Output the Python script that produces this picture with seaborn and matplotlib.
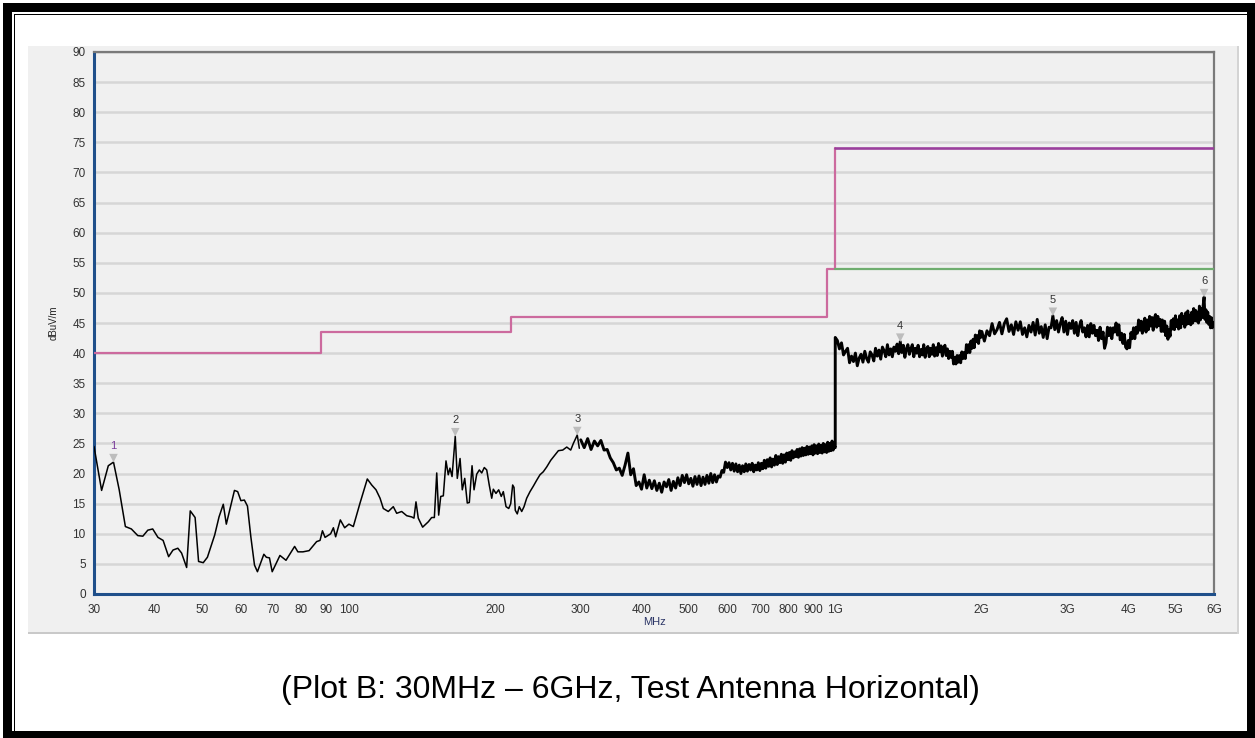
import matplotlib
matplotlib.use("Agg")
import numpy as np
import pandas as pd
import matplotlib.pyplot as plt
import seaborn as sns
from matplotlib.patches import Rectangle
from matplotlib.ticker import FixedLocator, MultipleLocator, NullLocator
import matplotlib.transforms as mtransforms

# ---------------- data ----------------
# 30 - 100 MHz
freq_a = [30.0, 31.1, 32.1, 32.9, 33.8, 34.8, 35.8, 36.9, 37.8, 38.7, 39.6, 40.6, 41.6, 42.7,
          43.6, 44.6, 45.4, 46.5, 47.3, 48.4, 49.2, 50.3, 51.3, 53.1, 54.2, 55.3, 56.1, 57.1,
          58.3, 59.2, 60.1, 61.1, 62.0, 63.0, 64.1, 65.0, 67.0, 67.8, 68.8, 69.7, 72.3, 74.4,
          77.5, 78.7, 80.6, 83.0, 86.0, 87.4, 88.4, 89.5, 91.9, 93.1, 94.1, 96.2, 98.2, 100.2]
level_a = [24.5, 17.2, 21.3, 21.9, 17.3, 11.2, 10.8, 9.7, 9.6, 10.6, 10.8, 9.4, 8.9, 6.2,
           7.3, 7.6, 6.8, 4.4, 13.8, 12.7, 5.4, 5.2, 6.1, 9.8, 12.8, 14.9, 11.6, 14.2,
           17.2, 17.0, 15.5, 15.6, 14.6, 9.5, 4.8, 3.7, 6.6, 6.1, 6.0, 3.7, 6.4, 5.6,
           7.9, 7.0, 7.0, 7.2, 8.7, 8.9, 10.5, 9.4, 10.0, 11.0, 9.5, 12.3, 11.0, 11.6]

# 100 - 300 MHz
freq_b = [102.3, 105.6, 109.3, 111.6, 113.9, 116.1, 117.9, 120.7, 123.6, 125.6,
          128.6, 131.7, 134.8, 136.3, 137.6, 139.1, 142.0, 145.9, 148.2, 150.1,
          151.8, 153.2, 154.7, 156.6, 158.6, 160.3, 161.6, 163.2, 165.7, 167.3,
          169.5, 171.3, 173.3, 175.4, 177.1, 179.4, 181.1, 183.4, 185.7, 187.8,
          190.1, 192.3, 194.6, 196.9, 198.4, 200.9, 203.5, 206.0, 208.0, 210.7,
          213.4, 215.4, 217.4, 218.8, 220.1, 222.2, 224.3, 226.9, 229.4, 232.3,
          236.0, 239.7, 243.6, 247.4, 251.3, 255.4, 260.3, 265.7, 269.9, 275.5,
          280.8, 286.1, 289.7, 295.1, 298.0]
level_b = [11.2, 15.1, 19.1, 18.1, 17.3, 15.9, 14.2, 13.7, 14.5, 13.4,
           13.7, 13.0, 12.8, 12.6, 15.3, 12.6, 11.1, 12.0, 12.7, 12.7,
           20.1, 13.1, 16.2, 16.3, 22.1, 19.8, 20.9, 19.5, 26.2, 19.2,
           22.5, 17.3, 19.2, 15.1, 15.2, 21.3, 17.3, 19.9, 20.6, 20.1,
           21.0, 20.6, 18.1, 15.9, 17.4, 16.7, 17.3, 16.2, 17.0, 14.5,
           14.2, 15.0, 18.1, 17.7, 13.9, 13.3, 14.5, 13.7, 14.5, 15.9,
           17.0, 17.9, 18.9, 19.8, 20.3, 21.1, 22.2, 23.1, 23.8, 23.9,
           24.4, 23.9, 25.0, 26.4, 24.2]

# 300 - 1000 MHz
freq_c = [300, 305, 310, 315, 320, 325, 330, 335, 340, 345,
          350, 355, 360, 365, 370, 375, 380, 385, 390, 395,
          400, 405, 410, 415, 420, 425, 430, 435, 440, 445,
          450, 455, 460, 465, 470, 475, 480, 485, 490, 495,
          500, 505, 510, 515, 520, 525, 530, 535, 540, 545,
          550, 555, 560, 565, 570, 575, 580, 585, 590, 595,
          600, 605, 610, 615, 620, 625, 630, 635, 640, 645,
          650, 655, 660, 665, 670, 675, 680, 685, 690, 695,
          700, 705, 710, 715, 720, 725, 730, 735, 740, 745,
          750, 755, 760, 765, 770, 775, 780, 785, 790, 795,
          800, 805, 810, 815, 820, 825, 830, 835, 840, 845,
          850, 855, 860, 865, 870, 875, 880, 885, 890, 895,
          900, 905, 910, 915, 920, 925, 930, 935, 940, 945,
          950, 955, 960, 965, 970, 975, 980, 985, 990, 995]
level_c = [25.6, 24.3, 25.8, 24.0, 25.4, 24.6, 25.5, 23.9, 24.0, 22.6,
           21.8, 20.6, 20.9, 19.7, 21.4, 23.4, 19.8, 20.8, 18.0, 18.6,
           17.4, 19.8, 17.6, 18.9, 17.5, 18.8, 17.2, 18.4, 16.9, 18.6,
           17.8, 19.0, 17.2, 18.7, 17.6, 19.3, 18.0, 19.7, 18.5, 19.8,
           18.3, 19.2, 17.9, 19.5, 18.2, 19.6, 18.0, 19.4, 18.2, 19.7,
           18.4, 20.0, 18.5, 19.8, 18.6, 19.6, 19.4, 20.5, 20.2, 21.9,
           21.0, 21.8, 20.6, 21.7, 20.4, 21.6, 20.3, 21.4, 20.0, 21.3,
           20.3, 21.6, 20.4, 21.5, 20.6, 21.7, 20.3, 21.4, 20.6, 21.8,
           20.5, 21.7, 20.8, 22.2, 20.9, 22.3, 21.2, 22.6, 21.1, 22.4,
           21.4, 23.0, 21.5, 22.8, 21.8, 23.2, 21.7, 23.1, 21.9, 23.4,
           22.3, 23.5, 22.2, 23.8, 22.6, 23.6, 22.8, 24.0, 22.7, 24.1,
           22.9, 24.3, 23.0, 24.2, 23.1, 24.5, 23.2, 24.4, 23.3, 24.6,
           23.1, 24.8, 23.4, 24.6, 23.3, 24.9, 23.5, 24.7, 23.4, 25.0,
           23.6, 24.8, 23.5, 25.2, 23.7, 25.0, 23.8, 25.4, 23.9, 24.6]

# 1 - 2 GHz
freq_d = [1000, 1000,
          1010, 1020, 1030, 1040, 1050, 1060, 1070, 1080, 1090, 1100,
          1110, 1120, 1130, 1140, 1150, 1160, 1170, 1180, 1190, 1200,
          1210, 1220, 1230, 1240, 1250, 1260, 1270, 1280, 1290, 1300,
          1310, 1320, 1330, 1340, 1350, 1360, 1370, 1380, 1390, 1400,
          1410, 1420, 1430, 1440, 1450, 1460, 1470, 1480, 1490, 1500,
          1510, 1520, 1530, 1540, 1550, 1560, 1570, 1580, 1590, 1600,
          1610, 1620, 1630, 1640, 1650, 1660, 1670, 1680, 1690, 1700,
          1710, 1720, 1730, 1740, 1750, 1760, 1770, 1780, 1790, 1800,
          1810, 1820, 1830, 1840, 1850, 1860, 1870, 1880, 1890, 1900,
          1910, 1920, 1930, 1940, 1950, 1960, 1970, 1980, 1990]
level_d = [24.3, 42.6,
           42.1, 40.7, 41.7, 39.7, 40.3, 40.8, 38.4, 39.5, 38.6, 40.0,
           37.9, 39.2, 39.8, 38.5, 40.3, 39.1, 38.5, 40.2, 39.7, 38.7,
           40.8, 39.5, 40.5, 39.0, 41.0, 40.4, 39.4, 41.4, 39.7, 40.7,
           39.4, 41.0, 40.3, 41.5, 39.9, 41.9, 40.1, 41.3, 39.3, 40.7,
           41.4, 39.8, 40.7, 41.4, 39.4, 40.8, 40.0, 41.3, 39.4, 40.6,
           39.7, 41.4, 39.3, 40.7, 41.1, 39.4, 40.8, 39.8, 41.4, 39.5,
           40.9, 39.6, 41.6, 40.2, 41.2, 39.5, 40.7, 41.3, 39.6, 40.7,
           39.1, 40.3, 39.3, 40.3, 38.2, 39.3, 38.2, 39.6, 38.5, 39.6,
           38.4, 40.2, 39.1, 40.1, 39.1, 41.4, 40.1, 41.4, 40.1, 42.0,
           40.8, 42.3, 40.9, 43.0, 41.9, 42.9, 41.6, 43.7, 42.6]

# 2 - 6 GHz
freq_e = [2000, 2025, 2050, 2075, 2100, 2125, 2150, 2175, 2200, 2225, 2250, 2275,
          2300, 2325, 2350, 2375, 2400, 2425, 2450, 2475, 2500, 2525, 2550, 2575,
          2600, 2625, 2650, 2675, 2700, 2725, 2750, 2775, 2800, 2825, 2850, 2875,
          2900, 2925, 2950, 2975, 3000, 3025, 3050, 3075, 3100, 3125, 3150, 3175,
          3200, 3225, 3250, 3275, 3300, 3325, 3350, 3375, 3400, 3425, 3450, 3475,
          3500, 3525, 3550, 3575, 3600, 3625, 3650, 3675, 3700, 3725, 3750, 3775,
          3800, 3825, 3850, 3875, 3900, 3925, 3950, 3975, 4000, 4025, 4050, 4075,
          4100, 4125, 4150, 4175, 4200, 4225, 4250, 4275, 4300, 4325, 4350, 4375,
          4400, 4425, 4450, 4475, 4500, 4525, 4550, 4575, 4600, 4625, 4650, 4675,
          4700, 4725, 4750, 4775, 4800, 4825, 4850, 4875, 4900, 4925, 4950, 4975,
          5000, 5025, 5050, 5075, 5100, 5125, 5150, 5175, 5200, 5225, 5250, 5275,
          5300, 5325, 5350, 5375, 5400, 5425, 5450, 5475, 5500, 5525, 5550, 5575,
          5600, 5625, 5650, 5675, 5700, 5725, 5750, 5775, 5800, 5825, 5850, 5875,
          5900, 5925, 5950, 5975, 6000]
level_e = [43.6, 42.0, 43.7, 42.9, 44.9, 43.2, 43.9, 45.1, 43.2, 44.9, 45.7, 43.6,
           44.7, 43.1, 45.2, 43.8, 45.2, 43.1, 44.2, 42.7, 44.6, 43.5, 45.1, 43.0,
           45.6, 43.3, 44.4, 42.6, 44.7, 42.4, 44.3, 44.2, 46.2, 43.9, 45.4, 43.5,
           44.9, 45.9, 43.5, 45.3, 43.1, 45.0, 44.1, 45.4, 43.3, 45.1, 42.9, 44.5,
           45.4, 43.5, 44.2, 42.7, 44.6, 42.7, 44.9, 43.3, 44.6, 42.9, 43.8, 42.1,
           44.3, 42.4, 43.5, 40.8, 41.7, 44.3, 42.9, 44.2, 42.4, 44.2, 43.5, 45.0,
           43.0, 44.7, 42.2, 43.3, 41.6, 43.1, 41.0, 40.7, 42.1, 40.9, 43.4, 42.4,
           44.2, 42.4, 44.3, 43.3, 45.5, 43.8, 45.3, 43.3, 45.0, 45.8, 43.5, 45.5,
           43.9, 46.1, 44.5, 45.9, 43.8, 45.8, 46.4, 44.3, 46.1, 44.6, 45.6, 43.6,
           45.5, 43.6, 45.3, 42.9, 44.5, 42.3, 43.9, 42.8, 45.4, 44.0, 45.7, 43.9,
           46.2, 44.4, 45.5, 44.0, 46.2, 44.2, 46.6, 44.9, 46.1, 44.3, 46.7, 44.8,
           47.0, 44.9, 46.3, 44.7, 46.8, 45.0, 47.4, 45.4, 47.1, 45.3, 46.8, 45.0,
           47.8, 45.5, 47.4, 45.9, 47.9, 49.3, 45.6, 47.2, 45.1, 46.8, 44.8, 46.1,
           44.2, 45.9, 44.2, 45.1, 44.4]

# limit lines
qp_limit_freq = [30, 88, 216, 960, 1000]
qp_limit_level = [40, 43.5, 46, 54, 74]
pk_limit_freq = [1000, 6000]
pk_limit_level = [74, 74]
av_limit_freq = [1000, 6000]
av_limit_level = [54, 54]

# peak markers
marker_ids = ["1", "2", "3", "4", "5", "6"]
marker_freq = [32.9, 165.7, 295.1, 1360, 2800, 5725]
marker_level = [21.9, 26.2, 26.4, 41.9, 46.2, 49.3]

# axis ticks
xtick_vals = [30, 40, 50, 60, 70, 80, 90, 100, 200, 300, 400, 500, 600, 700, 800, 900,
              1000, 2000, 3000, 4000, 5000, 6000]
xtick_labels = ["30", "40", "50", "60", "70", "80", "90", "100", "200", "300", "400", "500",
                "600", "700", "800", "900", "1G", "2G", "3G", "4G", "5G", "6G"]

title_text = "(Plot B: 30MHz \u2013 6GHz, Test Antenna Horizontal)"

# ---------------- figure ----------------
sns.set_theme(style="white")
plt.rcParams['font.family'] = ['Liberation Sans', 'DejaVu Sans']

W, H = 1255, 738
fig = plt.figure(figsize=(W / 100, H / 100), dpi=100, facecolor="white")


def fx(x):
    return x / W


def fy(y):
    return 1 - y / H


def frect(x0, y0, x1, y1, color, z=-1):
    fig.patches.append(Rectangle((fx(x0), fy(y1)), fx(x1) - fx(x0), fy(y0) - fy(y1),
                                 transform=fig.transFigure, facecolor=color,
                                 edgecolor="none", zorder=z))


# page frame
frect(3, 3, 1255, 12, "black")
frect(3, 3, 12, 738, "black")
frect(1247, 3, 1255, 738, "black")
frect(3, 731, 1255, 738, "black")
frect(13.5, 13.5, 15, 731, "black")
frect(13.5, 13.5, 1247, 15, "black")

# chart panel
frect(28, 46, 1238, 633, "#f0f0f0", z=-2)
frect(28, 631.5, 1238, 633.5, "#c9c9c9")
frect(1236.5, 46, 1238.5, 633.5, "#d4d4d4")

ax = fig.add_axes([fx(94), fy(594), fx(1214) - fx(94), fy(52) - fy(594)])
ax.set_zorder(1)
ax.set_facecolor("#f0f0f0")

trace_low = pd.DataFrame({"freq": freq_a + freq_b, "level": level_a + level_b})
trace_high = pd.DataFrame({"freq": freq_c + freq_d + freq_e,
                           "level": level_c + level_d + level_e})

ax.set_xscale("log")
sns.lineplot(data=trace_low, x="freq", y="level", ax=ax, estimator=None, sort=False,
             color="black", linewidth=1.1, zorder=4)
sns.lineplot(data=trace_high, x="freq", y="level", ax=ax, estimator=None, sort=False,
             color="black", linewidth=2.1, zorder=4)

sns.lineplot(x=qp_limit_freq, y=qp_limit_level, ax=ax, estimator=None, sort=False,
             drawstyle="steps-post", color="#cc6a9e", linewidth=1.6, zorder=3)
sns.lineplot(x=pk_limit_freq, y=pk_limit_level, ax=ax, estimator=None, sort=False,
             color="#9a3f9c", linewidth=1.9, zorder=3)
sns.lineplot(x=av_limit_freq, y=av_limit_level, ax=ax, estimator=None, sort=False,
             color="#6fad6f", linewidth=1.6, zorder=3)

# markers
tri_tr = mtransforms.offset_copy(ax.transData, fig=fig, x=0, y=4, units="dots")
sns.scatterplot(x=marker_freq, y=marker_level, ax=ax, marker="v", s=38,
                color="#bdbdbd", edgecolor="none", transform=tri_tr, zorder=5)
for mid, mf, ml in zip(marker_ids, marker_freq, marker_level):
    ax.annotate(mid, (mf, ml), xytext=(0, 16), textcoords="offset pixels",
                ha="center", va="center", fontsize=8,
                color="#7a3d9a" if mid == "1" else "#333333", zorder=6)

ax.set_xlim(30, 6000)
ax.set_ylim(0, 90)

ax.xaxis.set_major_locator(FixedLocator(xtick_vals))
ax.xaxis.set_minor_locator(NullLocator())
ax.set_xticklabels(xtick_labels)
ax.yaxis.set_major_locator(MultipleLocator(5))
ax.yaxis.set_minor_locator(MultipleLocator(1))

ax.tick_params(axis="both", which="major", labelsize=8.5, labelcolor="#333333",
               color="#8a8a8a", length=4, width=1, pad=2)
ax.tick_params(axis="y", which="minor", color="#9a9a9a", length=2, width=0.8)
ax.tick_params(axis="x", which="major", length=5)

ax.grid(False)
ax.yaxis.grid(True, color="#d6d6d6", linewidth=1.8)
ax.set_axisbelow(True)

for side in ("left", "bottom"):
    ax.spines[side].set_color("#1f4f8a")
    ax.spines[side].set_linewidth(2.2)
for side in ("top", "right"):
    ax.spines[side].set_color("#7a7a7a")
    ax.spines[side].set_linewidth(1.6)

ax.set_ylabel("dBuV/m", fontsize=7, color="#222222", labelpad=10)
ax.set_xlabel("MHz", fontsize=8, color="#2b3566", labelpad=1)

fig.text(fx(630), fy(690), title_text, ha="center", va="center", fontsize=23,
         color="black", family=["Liberation Sans", "DejaVu Sans"])

fig.savefig("out.png", dpi=100, facecolor="white")
